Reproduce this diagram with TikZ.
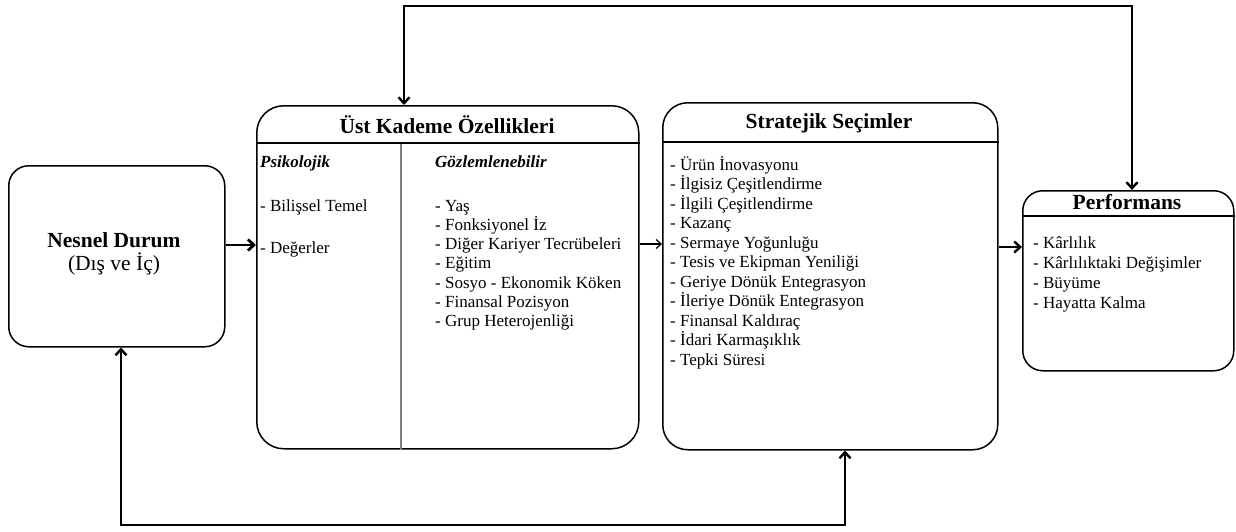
\documentclass[tikz,border=0pt]{standalone}
\usepackage{fontspec}
\setmainfont{Liberation Serif}
\usetikzlibrary{arrows.meta}
\begin{document}
\begin{tikzpicture}[x=1pt,y=-1pt,
  box/.style={draw=black, line width=1.5pt, rounded corners=#1, anchor=north west, inner sep=0pt},
  hline/.style={draw=black, line width=1.5pt},
  divline/.style={draw=black!50, line width=1.6pt},
  ttl/.style={anchor=base, inner sep=0pt, font=\fontsize{21.5}{24}\selectfont\bfseries},
  sub/.style={anchor=base, inner sep=0pt, font=\fontsize{21.5}{24}\selectfont},
  txt/.style={anchor=base west, inner sep=0pt, font=\fontsize{17}{19}\selectfont},
  hdr/.style={anchor=base west, inner sep=0pt, font=\fontsize{17}{19}\selectfont\bfseries\itshape},
  barb/.tip={Straight Barb[length=6pt,width=11pt]},
  loopline/.style={line width=2.4pt, barb-barb},
  thickarrow/.style={line width=2.8pt, -barb},
  thinarrow/.style={line width=1.2pt, -{Straight Barb[length=5pt,width=9pt]}},
  medarrow/.style={line width=2.4pt, -barb}]
\useasboundingbox (0,0) rectangle (1236,531);

% boxes
\node[box=20pt, minimum width=216pt, minimum height=181pt] (nes) at (8,165) {};
\node[box=27pt, minimum width=382pt, minimum height=343pt] (ust) at (256,105) {};
\node[box=25pt, minimum width=335pt, minimum height=347pt] (str) at (662,102) {};
\node[box=20pt, minimum width=211pt, minimum height=180pt] (prf) at (1022,190) {};

% header lines
\coordinate (hu) at (0,143);
\coordinate (hs) at (0,142);
\coordinate (hp) at (0,216);
\draw[hline] (ust.west |- hu) -- (ust.east |- hu);
\draw[hline] (str.west |- hs) -- (str.east |- hs);
\draw[hline] (prf.west |- hp) -- (prf.east |- hp);
\coordinate (dv) at (401,144);
\draw[divline] (dv) -- (dv |- ust.south);

% Nesnel Durum
\node[ttl] (nes1) at (114,247) {Nesnel Durum};
\node[sub] (nes2) at (114,270) {(Dış ve İç)};

% Üst Kademe
\node[ttl] (ustt) at (447,133) {Üst Kademe Özellikleri};
\node[hdr] (psi) at (260,167) {Psikolojik};
\node[txt] (psi1) at (260,211) {- Bilişsel Temel};
\node[txt] (psi2) at (260,253) {- Değerler};
\node[hdr] (goz) at (435,167) {Gözlemlenebilir};
\foreach \t [count=\i from 0] in {- Yaş, - Fonksiyonel İz, - Diğer Kariyer Tecrübeleri, - Eğitim, - Sosyo - Ekonomik Köken, - Finansal Pozisyon, - Grup Heterojenliği}
  \node[txt] (g\i) at (435,211+19.3*\i) {\t};

% Stratejik Seçimler
\node[ttl] (strt) at (829,128) {Stratejik Seçimler};
\foreach \t [count=\i from 0] in {- Ürün İnovasyonu, - İlgisiz Çeşitlendirme, - İlgili Çeşitlendirme, - Kazanç, - Sermaye Yoğunluğu, - Tesis ve Ekipman Yeniliği, - Geriye Dönük Entegrasyon, - İleriye Dönük Entegrasyon, - Finansal Kaldıraç, - İdari Karmaşıklık, - Tepki Süresi}
  \node[txt] (s\i) at (670,170+19.5*\i) {\t};

% Performans
\node[ttl] (prft) at (1127,209) {Performans};
\foreach \t [count=\i from 0] in {- Kârlılık, - Kârlılıktaki Değişimler, - Büyüme, - Hayatta Kalma}
  \node[txt] (p\i) at (1033,248+20*\i) {\t};

% straight connectors
\coordinate (y1) at (0,245);
\coordinate (y2) at (0,244);
\coordinate (y3) at (0,247);
\draw[thickarrow] (nes.east |- y1) -- (ust.west |- y1);
\draw[thinarrow] (ust.east |- y2) -- (str.west |- y2);
\draw[medarrow] (str.east |- y3) -- (prf.west |- y3);

% feedback loops
\coordinate (tl) at (404,6);
\coordinate (tr) at (1132,6);
\draw[loopline] (ust.north -| tl) |- (tr) -- (tr |- prf.north);
\coordinate (bl) at (121,525);
\coordinate (br) at (845,525);
\draw[loopline] (nes.south -| bl) |- (br) -- (br |- str.south);
\end{tikzpicture}
\end{document}
